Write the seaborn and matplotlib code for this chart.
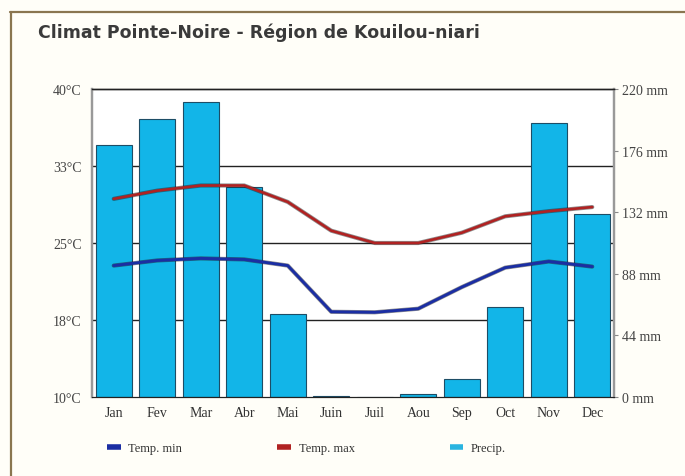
import numpy as np
import seaborn as sns
import matplotlib.pyplot as plt
import matplotlib.patheffects as pe
from matplotlib.lines import Line2D

# Données climatiques
mois = ['Jan', 'Fev', 'Mar', 'Abr', 'Mai', 'Juin', 'Juil', 'Aou', 'Sep', 'Oct', 'Nov', 'Dec']
precip = [180, 198.5, 210.5, 150, 59, 1, 0, 2.4, 13, 64.5, 195.5, 130.5]
temp_min = [22.8, 23.3, 23.5, 23.4, 22.8, 18.3, 18.25, 18.6, 20.7, 22.6, 23.2, 22.7]
temp_max = [29.3, 30.1, 30.6, 30.6, 29.0, 26.2, 25.0, 25.0, 26.0, 27.6, 28.1, 28.5]

temp_ticks = [10, 17.5, 25, 32.5, 40]
temp_labels = ['10°C', '18°C', '25°C', '33°C', '40°C']
precip_ticks = [0, 44, 88, 132, 176, 220]
precip_labels = [f'{v} mm' for v in precip_ticks]

c_min = '#1b2ea3'
c_max = '#b02222'
c_bar = '#12b5e8'

sns.set_style('white')
plt.rcParams['font.family'] = ['Liberation Serif', 'DejaVu Serif']

fig = plt.figure(figsize=(6.85, 4.77), dpi=100, facecolor='#fffef8')
ax = fig.add_axes([92 / 685, 1 - 398 / 477, 522 / 685, 308 / 477])
ax.set_facecolor('white')

# Précipitations (axe de droite)
sns.barplot(x=mois, y=precip, ax=ax, color=c_bar, edgecolor='#1d4d66',
            linewidth=0.8, width=0.82, saturation=1, zorder=2)
ax.set_ylim(0, 220)
ax.set_xlim(-0.5, 11.5)
ax.set_xlabel('')
ax.set_ylabel('')

# lignes de grille aux graduations de température
for t in temp_ticks[1:-1]:
    ax.axhline((t - 10) / 30 * 220, color='#222222', lw=1, zorder=1)

# Températures (axe de gauche)
ax2 = ax.twinx()
shadow = [pe.Stroke(linewidth=3.0, foreground='#202020', alpha=0.5), pe.Normal()]
sns.lineplot(x=mois, y=temp_max, ax=ax2, color=c_max, lw=1.9, sort=False,
             path_effects=shadow)
sns.lineplot(x=mois, y=temp_min, ax=ax2, color=c_min, lw=2.1, sort=False,
             path_effects=shadow)
ax2.set_ylim(10, 40)
ax2.set_xlim(-0.5, 11.5)
ax2.set_ylabel('')

# axes : températures à gauche, précipitations à droite
ax.yaxis.tick_right()
ax.set_yticks(precip_ticks)
ax.set_yticklabels(precip_labels)
ax.tick_params(axis='y', left=False, right=True, labelleft=False, labelright=True,
               length=3, width=0.8, color='#888888',
               labelsize=10, labelcolor='#444444', pad=3)
ax.tick_params(axis='x', bottom=False, labelsize=10, labelcolor='#333333', pad=3)

ax2.yaxis.tick_left()
ax2.set_yticks(temp_ticks)
ax2.set_yticklabels(temp_labels)
ax2.tick_params(axis='y', left=False, right=False, labelleft=True, labelright=False,
                labelsize=10, labelcolor='#444444', pad=4)

for a in (ax, ax2):
    a.spines['top'].set_color('#222222')
    a.spines['bottom'].set_color('#222222')
    a.spines['left'].set_color('#999999')
    a.spines['right'].set_color('#999999')
    a.spines['left'].set_linewidth(1.6)
    a.spines['right'].set_linewidth(1.6)
    a.spines['top'].set_linewidth(1)

# Titre
fig.text(38 / 685, 1 - 33 / 477, 'Climat Pointe-Noire - Région de Kouilou-niari',
         fontsize=12.5, fontweight='bold', color='#3a3a3a', va='center',
         family=['DejaVu Sans'])

# Légende
handles = [Line2D([], [], color=c_min, lw=4, solid_capstyle='butt'),
           Line2D([], [], color=c_max, lw=4, solid_capstyle='butt'),
           Line2D([], [], color='#2ab4e0', lw=4, solid_capstyle='butt')]
fig.legend(handles, ['Temp. min', 'Temp. max', 'Precip.'], loc='center left',
           bbox_to_anchor=(96 / 685, 1 - 449 / 477), ncol=3, frameon=False,
           handlelength=1.1, handletextpad=0.6, columnspacing=7.6,
           fontsize=9, labelcolor='#333333')

# Cadre
fig.add_artist(Line2D([10 / 685, 1], [1 - 12.5 / 477] * 2, color='#8a7650', lw=1.6))
fig.add_artist(Line2D([10.5 / 685] * 2, [0, 1 - 12.5 / 477], color='#8a7650', lw=1.6))

fig.savefig('out.png', dpi=100, facecolor=fig.get_facecolor())
